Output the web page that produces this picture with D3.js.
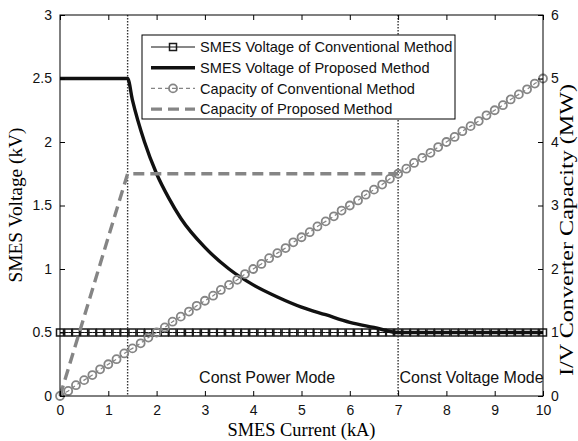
<!DOCTYPE html>
<html>
<head>
  <title>SMES</title>
  <script type="text/javascript" src="https://d3js.org/d3.v7.min.js"></script>
  <style>
    body { margin: 0; background: #fff; }
  </style>
</head>
<body>
  <div id="container"></div>
  <script type="text/javascript">
    // marker currents (kA) for the conventional-method curves
    var markerCurrents = [0, 0.17, 0.33, 0.5, 0.67, 0.83, 1, 1.17, 1.33, 1.5, 1.67, 1.83, 2, 2.17, 2.33, 2.5, 2.67, 2.83,
      3, 3.17, 3.33, 3.5, 3.67, 3.83, 4, 4.17, 4.33, 4.5, 4.67, 4.83, 5, 5.17, 5.33, 5.5, 5.67, 5.83, 6, 6.17, 6.33, 6.5,
      6.67, 6.83, 7, 7.17, 7.33, 7.5, 7.67, 7.83, 8, 8.17, 8.33, 8.5, 8.67, 8.83, 9, 9.17, 9.33, 9.5, 9.67, 9.83, 10];
    var convVoltage = [0.5, 0.5, 0.5, 0.5, 0.5, 0.5, 0.5, 0.5, 0.5, 0.5, 0.5, 0.5, 0.5, 0.5, 0.5, 0.5, 0.5, 0.5, 0.5, 0.5,
      0.5, 0.5, 0.5, 0.5, 0.5, 0.5, 0.5, 0.5, 0.5, 0.5, 0.5, 0.5, 0.5, 0.5, 0.5, 0.5, 0.5, 0.5, 0.5, 0.5, 0.5, 0.5, 0.5,
      0.5, 0.5, 0.5, 0.5, 0.5, 0.5, 0.5, 0.5, 0.5, 0.5, 0.5, 0.5, 0.5, 0.5, 0.5, 0.5, 0.5, 0.5];
    var convCapacity = [0, 0.08, 0.17, 0.25, 0.33, 0.42, 0.5, 0.58, 0.67, 0.75, 0.83, 0.92, 1, 1.08, 1.17, 1.25, 1.33,
      1.42, 1.5, 1.58, 1.67, 1.75, 1.83, 1.92, 2, 2.08, 2.17, 2.25, 2.33, 2.42, 2.5, 2.58, 2.67, 2.75, 2.83, 2.92, 3, 3.08,
      3.17, 3.25, 3.33, 3.42, 3.5, 3.58, 3.67, 3.75, 3.83, 3.92, 4, 4.08, 4.17, 4.25, 4.33, 4.42, 4.5, 4.58, 4.67, 4.75,
      4.83, 4.92, 5];

    // proposed method
    var propVoltCurrent = [0, 1.4, 1.5, 1.75, 2, 2.25, 2.5, 3, 3.5, 4, 4.5, 5, 5.5, 6, 6.5, 7, 10];
    var propVoltage = [2.5, 2.5, 2.33, 2.0, 1.75, 1.56, 1.4, 1.17, 1.0, 0.875, 0.78, 0.7, 0.64, 0.58, 0.54, 0.5, 0.5];
    var propCapCurrent = [0, 1.4, 7];
    var propCapacity = [0, 3.5, 3.5];

    var modeLines = [1.4, 7];
    var xTicks = [0, 1, 2, 3, 4, 5, 6, 7, 8, 9, 10];
    var yLeftTicks = [0, 0.5, 1, 1.5, 2, 2.5, 3];
    var yRightTicks = [0, 1, 2, 3, 4, 5, 6];
    var legendLabels = ['SMES Voltage of Conventional Method', 'SMES Voltage of Proposed Method',
      'Capacity of Conventional Method', 'Capacity of Proposed Method'];

    var W = 578, H = 441;
    var m = {left: 60, right: 35, top: 15, bottom: 45};
    var gray = '#858585';
    var sans = '"Liberation Sans", Arial, sans-serif';
    var serif = '"Liberation Serif", "Times New Roman", serif';

    var svg = d3.select('#container').append('svg')
      .attr('width', W).attr('height', H);

    var x = d3.scaleLinear().domain([0, 10]).range([m.left, W - m.right]);
    var yL = d3.scaleLinear().domain([0, 3]).range([H - m.bottom, m.top]);
    var yR = d3.scaleLinear().domain([0, 6]).range([H - m.bottom, m.top]);

    var x0 = x(0), x1 = x(10), y0 = yL(0), y1 = yL(3);

    // dotted mode boundaries
    svg.selectAll('line.mode').data(modeLines).enter().append('line')
      .attr('x1', d => x(d)).attr('x2', d => x(d))
      .attr('y1', y1).attr('y2', y0)
      .attr('stroke', '#333').attr('stroke-width', 1.4)
      .attr('stroke-dasharray', '1.5,1.5');

    // conventional voltage
    var convV = markerCurrents.map((c, i) => [c, convVoltage[i]]);
    svg.append('path').datum(convV)
      .attr('d', d3.line().x(d => x(d[0])).y(d => yL(d[1])))
      .attr('fill', 'none').attr('stroke', '#111').attr('stroke-width', 1);
    svg.selectAll('rect.sq').data(convV).enter().append('rect')
      .attr('x', d => x(d[0]) - 3.5).attr('y', d => yL(d[1]) - 3.5)
      .attr('width', 7).attr('height', 7)
      .attr('fill', 'none').attr('stroke', '#1a1a1a').attr('stroke-width', 1.5);

    // proposed voltage
    var propV = propVoltCurrent.map((c, i) => [c, propVoltage[i]]);
    svg.append('path').datum(propV)
      .attr('d', d3.line().x(d => x(d[0])).y(d => yL(d[1])).curve(d3.curveMonotoneX))
      .attr('fill', 'none').attr('stroke', '#111').attr('stroke-width', 3.4);

    // conventional capacity
    var convC = markerCurrents.map((c, i) => [c, convCapacity[i]]);
    svg.append('path').datum(convC)
      .attr('d', d3.line().x(d => x(d[0])).y(d => yR(d[1])))
      .attr('fill', 'none').attr('stroke', gray).attr('stroke-width', 1.2)
      .attr('stroke-dasharray', '4,3');
    svg.selectAll('circle.cc').data(convC).enter().append('circle')
      .attr('cx', d => x(d[0])).attr('cy', d => yR(d[1])).attr('r', 4)
      .attr('fill', 'none').attr('stroke', gray).attr('stroke-width', 1.8);

    // proposed capacity
    var propC = propCapCurrent.map((c, i) => [c, propCapacity[i]]);
    svg.append('path').datum(propC)
      .attr('d', d3.line().x(d => x(d[0])).y(d => yR(d[1])))
      .attr('fill', 'none').attr('stroke', gray).attr('stroke-width', 3.4)
      .attr('stroke-dasharray', '11,6');

    // frame
    svg.append('rect').attr('x', x0).attr('y', y1)
      .attr('width', x1 - x0).attr('height', y0 - y1)
      .attr('fill', 'none').attr('stroke', '#000').attr('stroke-width', 1);

    // axes (ticks pointing inward)
    var fmt = d => String(d);
    var axBottom = svg.append('g').attr('transform', `translate(0,${y0})`)
      .call(d3.axisBottom(x).tickValues(xTicks).tickFormat(fmt).tickSizeInner(-5).tickSizeOuter(0).tickPadding(9));
    var axTop = svg.append('g').attr('transform', `translate(0,${y1})`)
      .call(d3.axisTop(x).tickValues(xTicks).tickSizeInner(-5).tickSizeOuter(0).tickFormat(''));
    var axLeft = svg.append('g').attr('transform', `translate(${x0},0)`)
      .call(d3.axisLeft(yL).tickValues(yLeftTicks).tickFormat(fmt).tickSizeInner(-5).tickSizeOuter(0).tickPadding(8));
    var axRight = svg.append('g').attr('transform', `translate(${x1},0)`)
      .call(d3.axisRight(yR).tickValues(yRightTicks).tickFormat(fmt).tickSizeInner(-5).tickSizeOuter(0).tickPadding(8));
    [axBottom, axTop, axLeft, axRight].forEach(g => {
      g.select('.domain').remove();
      g.selectAll('line').attr('stroke', '#000');
      g.selectAll('text').style('font-family', sans).style('font-size', '14px').attr('fill', '#111');
    });

    // mode labels
    svg.append('text').attr('x', x(2.88)).attr('y', y0 - 13)
      .style('font-family', sans).style('font-size', '16px').attr('fill', '#111')
      .text('Const Power Mode');
    svg.append('text').attr('x', x(7.03)).attr('y', y0 - 13)
      .style('font-family', sans).style('font-size', '16px').attr('fill', '#111')
      .text('Const Voltage Mode');

    // axis titles
    svg.append('text').attr('x', (x0 + x1) / 2).attr('y', 436)
      .attr('text-anchor', 'middle')
      .attr('textLength', 148).attr('lengthAdjust', 'spacingAndGlyphs')
      .style('font-family', serif).style('font-size', '18px').text('SMES Current (kA)');
    svg.append('text').attr('transform', 'translate(22,205) rotate(-90)')
      .attr('text-anchor', 'middle')
      .attr('textLength', 155).attr('lengthAdjust', 'spacingAndGlyphs')
      .style('font-family', serif).style('font-size', '18px').text('SMES Voltage (kV)');
    svg.append('text').attr('transform', 'translate(573,230) rotate(-90)')
      .attr('text-anchor', 'middle')
      .attr('textLength', 292).attr('lengthAdjust', 'spacingAndGlyphs')
      .style('font-family', serif).style('font-size', '18px').text('I/V Converter Capacity (MW)');

    // legend
    var lg = svg.append('g').attr('transform', 'translate(142,35)');
    lg.append('rect').attr('width', 313).attr('height', 84)
      .attr('fill', '#fff').attr('stroke', '#000').attr('stroke-width', 1);
    var rows = lg.selectAll('g.row').data(legendLabels).enter().append('g')
      .attr('transform', (d, i) => `translate(0,${12 + i * 20.7})`);
    rows.append('text').attr('x', 58).attr('y', 0).attr('dy', '0.35em')
      .style('font-family', sans).style('font-size', '14.6px').attr('fill', '#111')
      .text(d => d);
    var styles = [
      {stroke: '#111', w: 1, dash: null},
      {stroke: '#111', w: 3.4, dash: null},
      {stroke: gray, w: 1.2, dash: '4,3'},
      {stroke: gray, w: 3.4, dash: '11,6'}
    ];
    rows.append('line').attr('x1', 9).attr('x2', 53).attr('y1', 0).attr('y2', 0)
      .attr('stroke', (d, i) => styles[i].stroke).attr('stroke-width', (d, i) => styles[i].w)
      .attr('stroke-dasharray', (d, i) => styles[i].dash);
    rows.filter((d, i) => i === 0).append('rect')
      .attr('x', 31 - 3.5).attr('y', -3.5).attr('width', 7).attr('height', 7)
      .attr('fill', 'none').attr('stroke', '#1a1a1a').attr('stroke-width', 1.5);
    rows.filter((d, i) => i === 2).append('circle')
      .attr('cx', 31).attr('cy', 0).attr('r', 4)
      .attr('fill', 'none').attr('stroke', gray).attr('stroke-width', 1.8);
  </script>
</body>
</html>
